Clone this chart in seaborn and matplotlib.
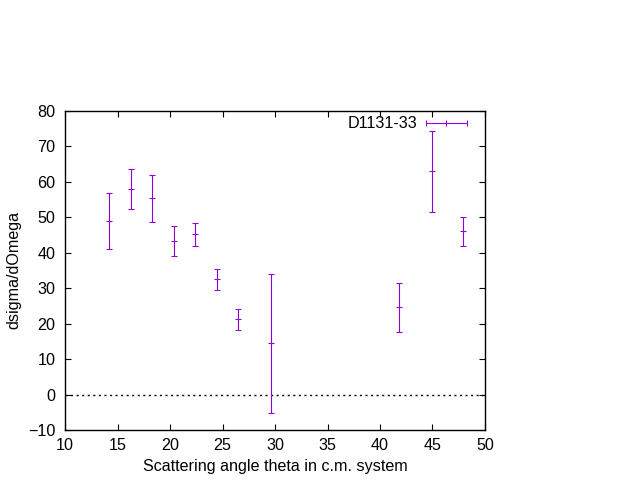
import numpy as np
import pandas as pd
import seaborn as sns
import matplotlib
matplotlib.use("Agg")
import matplotlib.pyplot as plt
from matplotlib.legend_handler import HandlerErrorbar

# --- dados ---
theta = [14.2, 16.3, 18.3, 20.4, 22.4, 24.5, 26.5, 29.6, 41.8, 45.0, 47.9]
dsigma = [49.0, 57.9, 55.3, 43.2, 45.2, 32.5, 21.2, 14.5, 24.6, 63.0, 46.1]
erro = [7.9, 5.65, 6.6, 4.25, 3.3, 3.0, 3.0, 19.6, 7.0, 11.4, 4.1]
rotulo = "D1131-33"
xticks = [10, 15, 20, 25, 30, 35, 40, 45, 50]
yticks = [-10, 0, 10, 20, 30, 40, 50, 60, 70, 80]

df = pd.DataFrame({"theta": theta, "dsigma": dsigma, "erro": erro})

# --- estilo ---
sns.set_theme(style="ticks")
plt.rcParams["font.family"] = ["Liberation Sans", "DejaVu Sans"]
fs = 11.6
plt.rcParams["font.size"] = fs
plt.rcParams["text.color"] = "black"
plt.rcParams["axes.labelcolor"] = "black"
cor = "#9400D3"

fig = plt.figure(figsize=(6.4, 4.8), dpi=100)
ax = fig.add_axes([0.1016, 0.104, 0.6562, 0.665])

ax.axhline(0, color="black", lw=1, ls=(0, (1.5, 2.5)), zorder=1)

ax.errorbar(df["theta"], df["dsigma"], yerr=df["erro"], fmt="none",
            ecolor=cor, elinewidth=0.8, capsize=1.9, capthick=0.8, zorder=3)
sns.scatterplot(data=df, x="theta", y="dsigma", marker="_", s=16,
                color=cor, linewidth=0.8, ax=ax, zorder=4, legend=False)

# proxy para a legenda (barra horizontal como no gnuplot)
proxy = ax.errorbar([np.nan], [np.nan], xerr=[1], fmt="|", color=cor,
                    ms=4, mew=0.8, elinewidth=0.8, capsize=1.9, capthick=0.8,
                    label=rotulo)
ax.legend(handles=[proxy], loc="upper right", bbox_to_anchor=(0.957, 0.983),
          frameon=False, markerfirst=False, borderpad=0, borderaxespad=0,
          handlelength=2.55, handletextpad=0.5, fontsize=fs,
          handler_map={type(proxy): HandlerErrorbar(xerr_size=1.27)})

ax.set_xlim(10, 50)
ax.set_ylim(-10, 80)
ax.set_xticks(xticks)
ax.set_yticks(yticks)
ax.tick_params(direction="in", length=4, width=0.8, top=True, right=True,
               labelsize=fs, colors="black")
ax.tick_params(axis="y", pad=7)
ax.tick_params(axis="x", pad=6)
for s in ax.spines.values():
    s.set_linewidth(1)
    s.set_color("black")

ax.set_xlabel("Scattering angle theta in c.m. system", fontsize=fs, labelpad=4)
ax.set_ylabel("dsigma/dOmega", fontsize=fs, labelpad=5)

plt.savefig("out.png", dpi=100)
plt.close()
